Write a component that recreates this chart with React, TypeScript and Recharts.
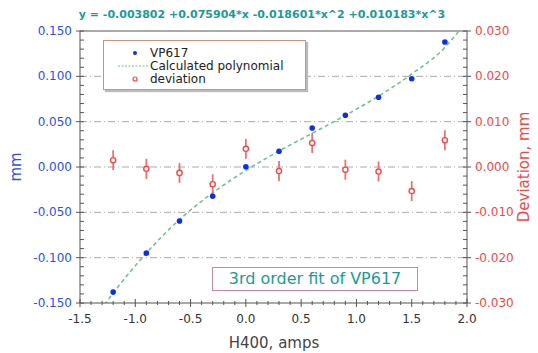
import { ComposedChart, Line, Scatter, XAxis, YAxis, ErrorBar, ReferenceLine } from 'recharts';

// measured points, mm
const pointX = [-1.2, -0.9, -0.6, -0.3, 0.0, 0.3, 0.6, 0.9, 1.2, 1.5, 1.8];
const pointY = [-0.138, -0.095, -0.0595, -0.0323, 0.0003, 0.0173, 0.043, 0.057, 0.077, 0.0973, 0.1378];

// deviation from fit, mm (right axis)
const devY = [0.0015, -0.0004, -0.0013, -0.0038, 0.004, -0.0009, 0.0053, -0.0006, -0.001, -0.0053, 0.0059];
const devErr = [0.0022, 0.0022, 0.0022, 0.0022, 0.0022, 0.0022, 0.0022, 0.0022, 0.0022, 0.0022, 0.0022];

// calculated polynomial
const curveX = [-1.28, -1.2, -0.9, -0.6, -0.3, 0.0, 0.3, 0.6, 0.9, 1.2, 1.5, 1.8, 1.94];
const curveY = [-0.152, -0.139, -0.095, -0.058, -0.0285, -0.0038, 0.0176, 0.0372, 0.0569, 0.0781, 0.1026, 0.1319, 0.152];

const xMajor = [-1.5, -1.0, -0.5, 0.0, 0.5, 1.0, 1.5, 2.0];
const xTicks = Array.from({ length: 36 }, (_, i) => Math.round((-1.5 + i * 0.1) * 10) / 10);
const leftMajor = [-0.15, -0.1, -0.05, 0, 0.05, 0.1, 0.15];
const leftTicks = Array.from({ length: 31 }, (_, i) => Math.round((-0.15 + i * 0.01) * 100) / 100);
const rightMajor = [-0.03, -0.02, -0.01, 0, 0.01, 0.02, 0.03];
const rightTicks = Array.from({ length: 31 }, (_, i) => Math.round((-0.03 + i * 0.002) * 1000) / 1000);

const points = pointX.map((x, i) => ({ x, y: pointY[i] }));
const deviation = pointX.map((x, i) => ({ x, d: devY[i], err: devErr[i] }));
const curve = curveX.map((x, i) => ({ x, c: curveY[i] }));

const FONT = '"DejaVu Sans", Verdana, sans-serif';
const BLUE = '#2b4ff0';
const RED = '#f04848';
const TEAL = '#1d9a96';
const AXIS = '#555';

const L = 80, R = 467, T = 31, B = 303;

const isMajor = (v: number, majors: number[]) => majors.some((m) => Math.abs(m - v) < 1e-9);

const XTick = (props: any) => {
  const { x, payload } = props;
  const major = isMajor(payload.value, xMajor);
  return (
    <g>
      <line x1={x} x2={x} y1={B - (major ? 4 : 2)} y2={B + (major ? 4 : 2)} stroke={AXIS} />
      {major && (
        <text x={x} y={B + 20} textAnchor="middle" fill="#333" fontSize={12} fontFamily={FONT}>
          {payload.value.toFixed(1)}
        </text>
      )}
    </g>
  );
};

const LeftTick = (props: any) => {
  const { y, payload } = props;
  const major = isMajor(payload.value, leftMajor);
  return (
    <g>
      <line x1={major ? L - 4 : L} x2={L + 4} y1={y} y2={y} stroke={AXIS} />
      {major && (
        <text x={L - 8} y={y + 4} textAnchor="end" fill={BLUE} fontSize={12} fontFamily={FONT}>
          {payload.value.toFixed(3)}
        </text>
      )}
    </g>
  );
};

const RightTick = (props: any) => {
  const { y, payload } = props;
  const major = isMajor(payload.value, rightMajor);
  return (
    <g>
      <line x1={R - 4} x2={major ? R + 4 : R} y1={y} y2={y} stroke={AXIS} />
      {major && (
        <text x={R + 8} y={y + 4} textAnchor="start" fill={RED} fontSize={12} fontFamily={FONT}>
          {payload.value.toFixed(3)}
        </text>
      )}
    </g>
  );
};

const Dot = (props: any) => <circle cx={props.cx} cy={props.cy} r={2.8} fill="#1030e0" />;
const DevMark = (props: any) => (
  <circle cx={props.cx} cy={props.cy} r={2.6} fill="#fff" stroke={RED} strokeWidth={1.4} />
);

export default function App() {
  return (
    <div style={{ position: 'fixed', left: 0, top: 0, width: 538, height: 353, background: '#fff', fontFamily: FONT }}>
      <ComposedChart width={538} height={353} margin={{ top: T, right: 538 - R - 60, bottom: 353 - B - 30, left: L - 60 }}>
        <XAxis
          type="number"
          dataKey="x"
          domain={[-1.5, 2.0]}
          ticks={xTicks}
          interval={0}
          allowDataOverflow
          height={30}
          tickLine={false}
          tick={<XTick />}
          stroke={AXIS}
        />
        <YAxis
          yAxisId="left"
          type="number"
          domain={[-0.15, 0.15]}
          ticks={leftTicks}
          interval={0}
          allowDataOverflow
          width={60}
          tickLine={false}
          tick={<LeftTick />}
          stroke={AXIS}
        />
        <YAxis
          yAxisId="right"
          orientation="right"
          type="number"
          domain={[-0.03, 0.03]}
          ticks={rightTicks}
          interval={0}
          allowDataOverflow
          width={60}
          tickLine={false}
          tick={<RightTick />}
          stroke={AXIS}
        />
        {leftMajor.slice(1, -1).map((v) => (
          <ReferenceLine key={v} yAxisId="left" y={v} stroke="#aaa" strokeDasharray="7 3 1 3" />
        ))}
        <ReferenceLine yAxisId="left" y={0.15} stroke={AXIS} />
        <Line
          yAxisId="left"
          data={curve}
          dataKey="c"
          type="monotone"
          stroke="#6cc08e"
          strokeWidth={1.5}
          strokeDasharray="4 3"
          dot={false}
          isAnimationActive={false}
        />
        <Scatter yAxisId="right" data={deviation} dataKey="d" shape={<DevMark />} isAnimationActive={false}>
          <ErrorBar dataKey="err" direction="y" width={0} stroke="#f07070" strokeWidth={1.8} />
        </Scatter>
        <Scatter yAxisId="left" data={points} dataKey="y" shape={<Dot />} isAnimationActive={false} />
      </ComposedChart>

      <div style={{ position: 'absolute', left: 0, width: 538, top: 8, textAlign: 'center', color: TEAL, fontWeight: 'bold', fontSize: 11 }}>
        <span style={{ position: 'relative', left: -7 }}>y = -0.003802 +0.075904*x -0.018601*x^2 +0.010183*x^3</span>
      </div>

      <div style={{ position: 'absolute', left: 103, top: 40, width: 201, height: 48, border: '1px solid #c9927c', background: '#fff', boxShadow: '2px 2px 1px #bbb', fontSize: 12, color: '#222', lineHeight: '12px' }}>
        <div style={{ position: 'absolute', left: 46, top: 6 }}>VP617</div>
        <div style={{ position: 'absolute', left: 46, top: 19 }}>Calculated polynomial</div>
        <div style={{ position: 'absolute', left: 46, top: 32 }}>deviation</div>
        <svg style={{ position: 'absolute', left: 0, top: 0 }} width={46} height={48}>
          <circle cx={31} cy={12} r={2} fill="#1030e0" />
          <line x1={14} x2={45} y1={25} y2={25} stroke="#6cc08e" strokeDasharray="2 1.5" />
          <circle cx={31} cy={38} r={2} fill="#fff" stroke={RED} strokeWidth={1.2} />
        </svg>
      </div>

      <div style={{ position: 'absolute', left: 212, top: 267, width: 204, height: 22, border: '1px solid #c888a6', color: TEAL, fontSize: 16, fontWeight: 500, lineHeight: '22px', textAlign: 'center', background: '#fff' }}>
        3rd order fit of VP617
      </div>

      <div style={{ position: 'absolute', left: 0, width: 538, top: 334, textAlign: 'center', fontSize: 15, color: '#444' }}>
        <span style={{ position: 'relative', left: 5 }}>H400, amps</span>
      </div>

      <div style={{ position: 'absolute', left: 16, top: 167, transform: 'translate(-50%, -50%) rotate(-90deg)', color: BLUE, fontSize: 15, whiteSpace: 'nowrap' }}>
        mm
      </div>
      <div style={{ position: 'absolute', left: 524, top: 167, transform: 'translate(-50%, -50%) rotate(-90deg)', color: RED, fontSize: 15, whiteSpace: 'nowrap' }}>
        Deviation, mm
      </div>
    </div>
  );
}
